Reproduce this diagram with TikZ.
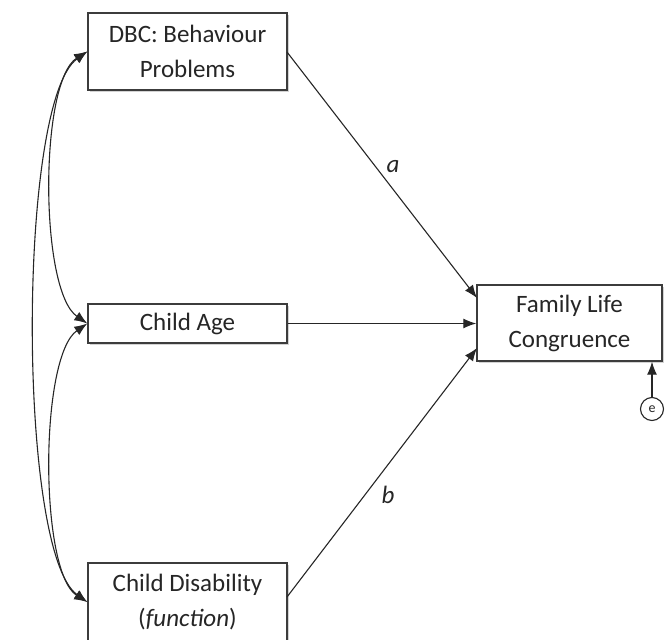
\documentclass[tikz,border=0pt]{standalone}
\usepackage{fontspec}
\setmainfont{Carlito}
\usetikzlibrary{arrows.meta,shadows}
\definecolor{ink}{HTML}{262626}
\begin{document}
\begin{tikzpicture}[x=1pt,y=-1pt,
  box/.style={draw=ink!90,line width=1.4pt,fill=white,align=center,inner sep=0pt,
    font=\fontsize{25}{35}\selectfont,text=ink,
    drop shadow={opacity=0.35,shadow xshift=1.5pt,shadow yshift=-1.5pt}},
  conn/.style={draw=ink,line width=1.1pt,-{Latex[length=13pt,width=10pt]}},
  cov/.style={draw=ink,line width=1.1pt,{Latex[length=13pt,width=10pt]}-{Latex[length=13pt,width=10pt]}},
  lab/.style={font=\fontsize{25}{30}\selectfont\itshape,text=ink}]
\useasboundingbox (0,0) rectangle (665,640);
\node[box,minimum width=199pt,minimum height=77pt] (dbc) at (187.5,51.5) {DBC: Behaviour\\Problems};
\node[box,minimum width=199pt,minimum height=39pt] (age) at (187.5,323.5) {Child Age};
\node[box,minimum width=199pt,minimum height=78pt] (dis) at (187.5,602) {Child Disability\\(\textit{function})};
\node[box,minimum width=185pt,minimum height=76pt] (flc) at (569.5,323) {Family Life\\Congruence};
\node[draw=ink,line width=1.1pt,circle,minimum size=23pt,inner sep=0pt,fill=white,font=\fontsize{14}{14}\selectfont,text=ink] (e) at (652,409) {e};
\coordinate (fa) at (477,298);
\coordinate (fb) at (477,348);
\coordinate (da) at (287,52);
\coordinate (db) at (287,597);
\draw[conn] (da) -- (fa);
\draw[conn] (age.east) -- (age.east -| flc.west);
\draw[conn] (db) -- (fb);
\draw[conn] (e.north) -- (e.north |- flc.south);
\node[lab] (la) at (393,167) {a};
\node[lab] (lb) at (388,495) {b};
\draw[cov] (dbc.west) .. controls +(-48,30) and +(-48,-33) .. (age.west);
\draw[cov] (age.west) .. controls +(-48,33) and +(-48,-30) .. (dis.west);
\draw[cov] (dbc.west) .. controls +(-70,50) and +(-70,-50) .. (dis.west);
\end{tikzpicture}
\end{document}
